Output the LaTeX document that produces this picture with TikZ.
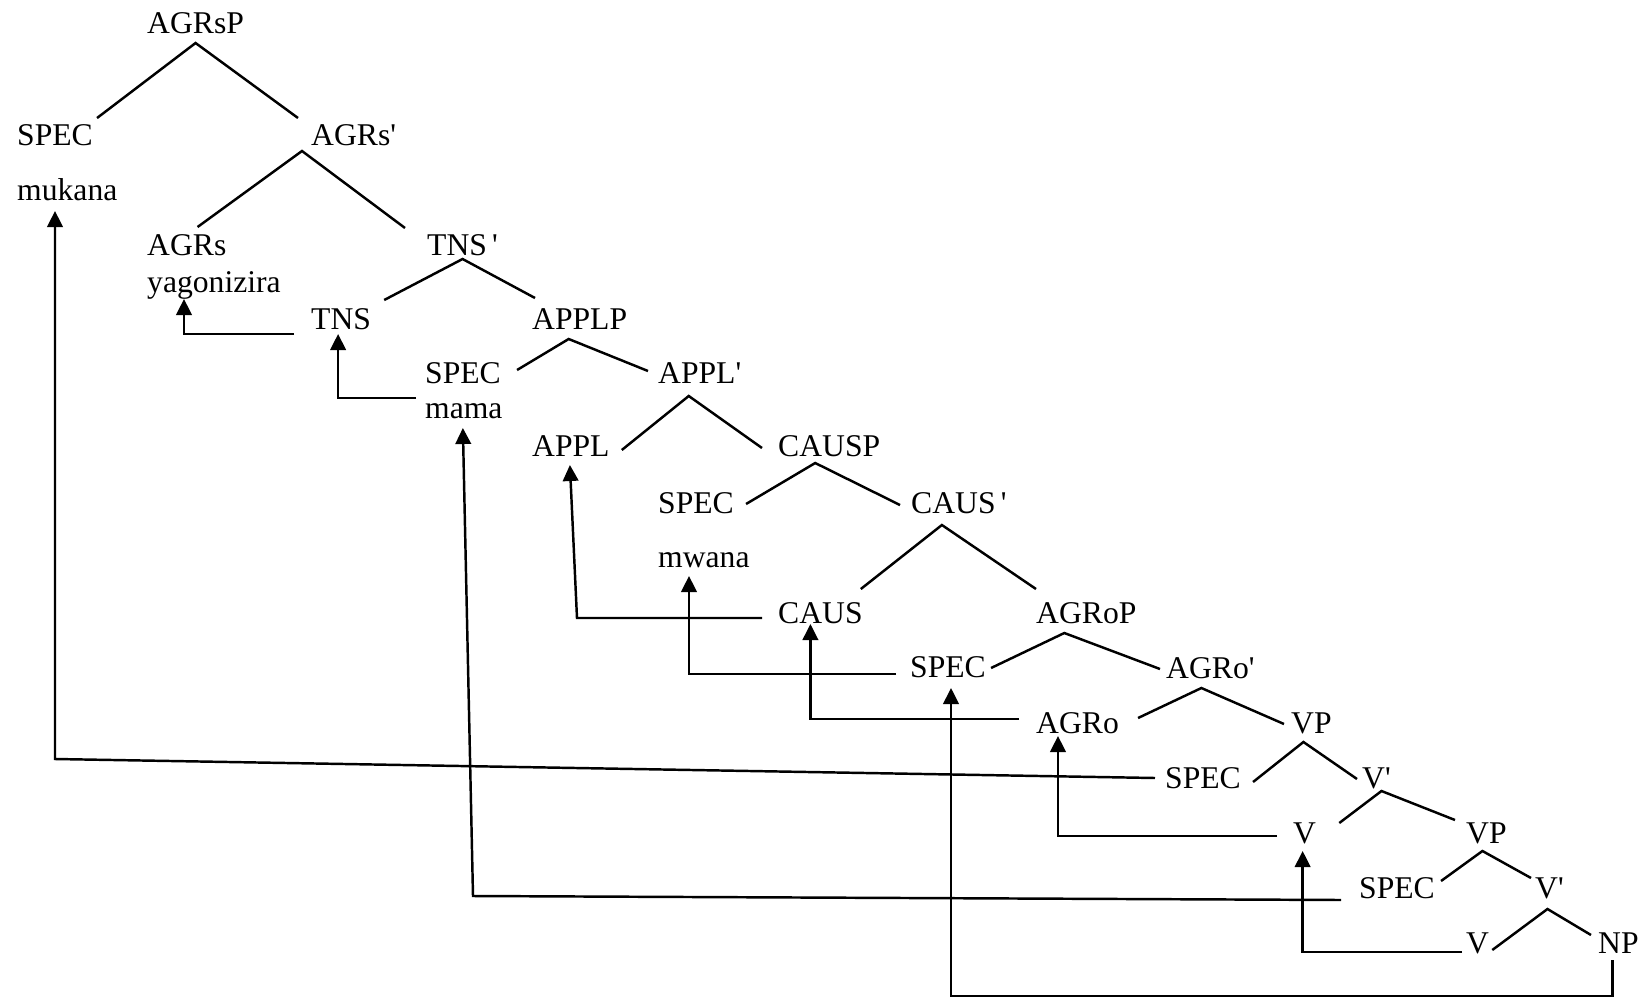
\documentclass[tikz,border=0pt]{standalone}
\usepackage{fontspec}
\setmainfont{Liberation Serif}
\usetikzlibrary{arrows.meta}

\begin{document}
\begin{tikzpicture}[>={Triangle[length=0.16cm, width=0.155cm]}, line width=0.7pt,
  lbl/.style={inner sep=0pt, anchor=base west, font=\fontsize{9}{11}\selectfont}]

\useasboundingbox (0,0) rectangle (16.44,-10.01);

% categories and words
\node[lbl] (agrsp) at (1.46,-0.33) {AGRsP};
\node[lbl] (specA) at (0.16,-1.45) {SPEC};
\node[lbl] (agrsb) at (3.10,-1.45) {AGRs\textquotesingle};
\node[lbl] (mukana) at (0.16,-2.00) {mukana};
\node[lbl] (agrs) at (1.46,-2.55) {AGRs};
\node[lbl] (yag) at (1.46,-2.92) {yagonizira};
\node[lbl] (tnsb) at (4.26,-2.55) {TNS\,\textquotesingle};
\node[lbl] (tns) at (3.10,-3.29) {TNS};
\node[lbl] (applp) at (5.31,-3.29) {APPLP};
\node[lbl] (specB) at (4.24,-3.83) {SPEC};
\node[lbl] (applb) at (6.57,-3.83) {APPL\textquotesingle};
\node[lbl] (mama) at (4.24,-4.18) {mama};
\node[lbl] (appl) at (5.31,-4.56) {APPL};
\node[lbl] (causp) at (7.77,-4.56) {CAUSP};
\node[lbl] (specC) at (6.57,-5.13) {SPEC};
\node[lbl] (causb) at (9.10,-5.13) {CAUS\,\textquotesingle};
\node[lbl] (mwana) at (6.57,-5.67) {mwana};
\node[lbl] (caus) at (7.77,-6.23) {CAUS};
\node[lbl] (agrop) at (10.35,-6.23) {AGRoP};
\node[lbl] (specD) at (9.09,-6.77) {SPEC};
\node[lbl] (agrob) at (11.65,-6.78) {AGRo\textquotesingle};
\node[lbl] (agro) at (10.35,-7.33) {AGRo};
\node[lbl] (vpA) at (12.90,-7.33) {VP};
\node[lbl] (specE) at (11.64,-7.88) {SPEC};
\node[lbl] (vbA) at (13.61,-7.88) {V\textquotesingle};
\node[lbl] (vA) at (12.92,-8.43) {V};
\node[lbl] (vpB) at (14.65,-8.43) {VP};
\node[lbl] (specF) at (13.58,-8.98) {SPEC};
\node[lbl] (vbB) at (15.34,-8.98) {V\textquotesingle};
\node[lbl] (vB) at (14.65,-9.53) {V};
\node[lbl] (np) at (15.97,-9.53) {NP};

% branches
\draw ([shift={(0.03,0.27)}]specA.base east) -- ([shift={(0.00,-0.10)}]agrsp.base) -- ([shift={(-0.12,0.27)}]agrsb.base west);
\draw ([shift={(-0.30,0.28)}]agrs.base east) -- ([shift={(-0.08,-0.06)}]agrsb.base west) -- ([shift={(-0.21,0.27)}]tnsb.base west);
\draw ([shift={(0.12,0.29)}]tns.base east) -- ([shift={(0.00,-0.04)}]tnsb.base) -- ([shift={(0.04,0.31)}]applp.base west);
\draw ([shift={(0.15,0.13)}]specB.base east) -- ([shift={(-0.11,-0.10)}]applp.base) -- ([shift={(-0.09,0.12)}]applb.base west);
\draw ([shift={(0.11,0.06)}]appl.base east) -- ([shift={(-0.11,-0.13)}]applb.base) -- ([shift={(-0.15,0.08)}]causp.base west);
\draw ([shift={(0.11,0.09)}]specC.base east) -- ([shift={(-0.14,-0.07)}]causp.base) -- ([shift={(-0.10,0.08)}]causb.base west);
\draw ([shift={(-0.03,0.34)}]caus.base east) -- ([shift={(-0.17,-0.12)}]causb.base) -- ([shift={(0.01,0.34)}]agrop.base west);
\draw ([shift={(0.04,0.09)}]specD.base east) -- ([shift={(-0.22,-0.10)}]agrop.base) -- ([shift={(-0.05,0.09)}]agrob.base west);
\draw ([shift={(0.18,0.15)}]agro.base east) -- ([shift={(-0.09,-0.10)}]agrob.base) -- ([shift={(-0.06,0.09)}]vpA.base west);
\draw ([shift={(0.11,0.06)}]specE.base east) -- ([shift={(-0.08,-0.09)}]vpA.base) -- ([shift={(-0.04,0.09)}]vbA.base west);
\draw ([shift={(0.22,0.20)}]vA.base east) -- ([shift={(0.05,-0.03)}]vbA.base) -- ([shift={(-0.10,0.23)}]vpB.base west);
\draw ([shift={(0.05,0.17)}]specF.base east) -- ([shift={(-0.04,-0.08)}]vpB.base) -- ([shift={(-0.03,0.20)}]vbB.base west);
\draw ([shift={(0.02,0.03)}]vB.base east) -- ([shift={(-0.02,-0.11)}]vbB.base) -- ([shift={(-0.06,0.18)}]np.base west);

% movement
\draw[->] ([shift={(-0.16,-0.05)}]tns.base west) -| ([shift={(0.38,-0.07)}]yag.base west);
\draw[->] ([shift={(-0.08,0.20)}]mama.base west) -| ([shift={(-0.03,-0.05)}]tns.base);
\draw[->] ([shift={(-0.15,0.05)}]caus.base west) -- ++(-1.85,0) -- ([shift={(-0.01,-0.09)}]appl.base);
\draw[->] ([shift={(-0.13,0.03)}]specD.base west) -| ([shift={(0.32,-0.09)}]mwana.base west);
\draw[->] ([shift={(-0.16,0.14)}]agro.base west) -| ([shift={(-0.10,-0.01)}]caus.base);
\draw[->] ([shift={(-0.09,0.10)}]specE.base west) -- ++(-11.00,0.19) -- ([shift={(0.39,-0.11)}]mukana.base west);
\draw[->] ([shift={(-0.15,0.07)}]vA.base west) -| ([shift={(0.23,-0.03)}]agro.base west);
\draw[->] ([shift={(-0.17,-0.02)}]specF.base west) -- ++(-8.68,0.04) -- ([shift={(-0.01,-0.10)}]mama.base);
\draw[->] ([shift={(-0.03,0.01)}]vB.base west) -| ([shift={(-0.02,-0.08)}]vA.base);
\draw[->] ([shift={(-0.06,-0.07)}]np.base) -- ++(0,-0.36) -| ([shift={(0.03,-0.11)}]specD.base);

\end{tikzpicture}
\end{document}
